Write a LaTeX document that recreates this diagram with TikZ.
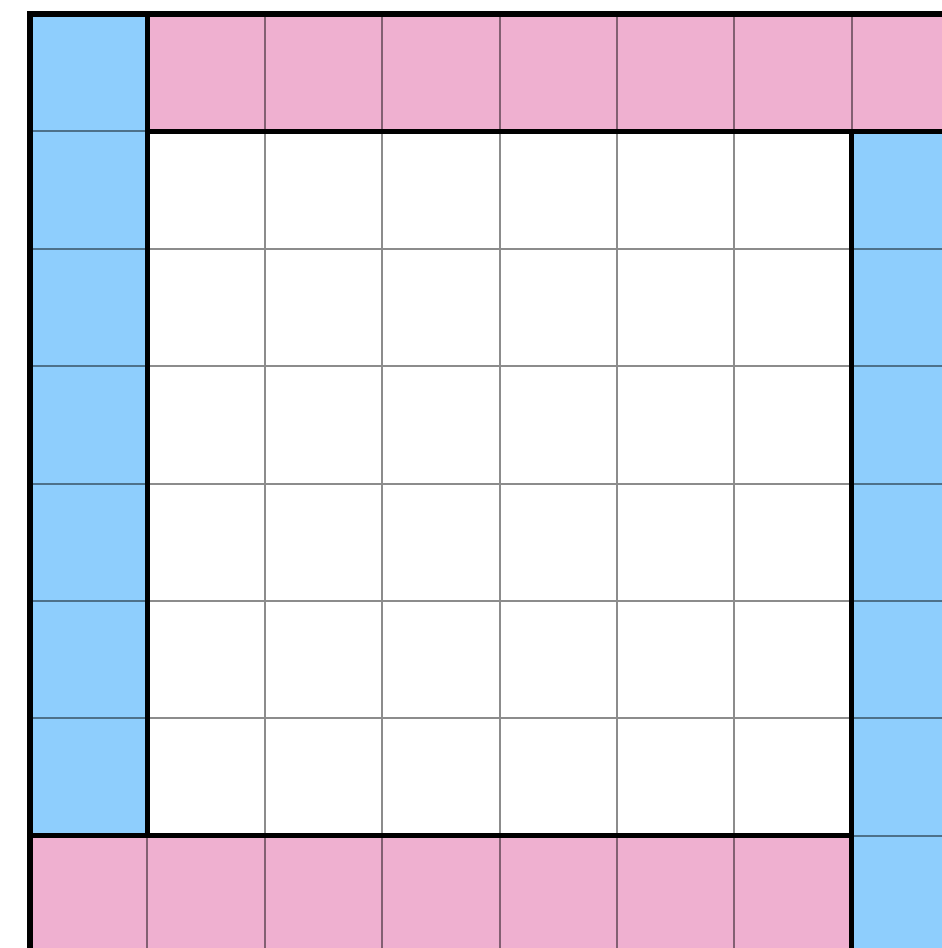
\documentclass[tikz,border=0pt]{standalone}
\definecolor{cellblue}{RGB}{142,206,253}
\definecolor{cellpink}{RGB}{239,176,208}
\begin{document}
\begin{tikzpicture}[y=-1cm,
    thingrid/.style={black, opacity=0.45, line width=0.5pt},
    border/.style={black, line width=1.3pt, line cap=rect}]
\useasboundingbox (-0.2555,-0.119) rectangle (7.768,7.956);
\clip (-0.2555,-0.119) rectangle (7.768,7.956);
\fill[white] (-0.2555,-0.119) rectangle (7.768,7.956);
\fill[cellblue] (0,0) rectangle (1,7);
\fill[cellpink] (1,0) rectangle (9,1);
\fill[cellblue] (7,1) rectangle (8,9);
\fill[cellpink] (0,7) rectangle (7,9);
\draw[thingrid] (0,0) grid (9,9);
\draw[border] (0,8.5) -- (0,0) -- (8.5,0);
\draw[border] (1,0) -- (1,7);
\draw[border] (1,1) -- (8.5,1);
\draw[border] (7,1) -- (7,8.5);
\draw[border] (0,7) -- (7,7);
\end{tikzpicture}
\end{document}
